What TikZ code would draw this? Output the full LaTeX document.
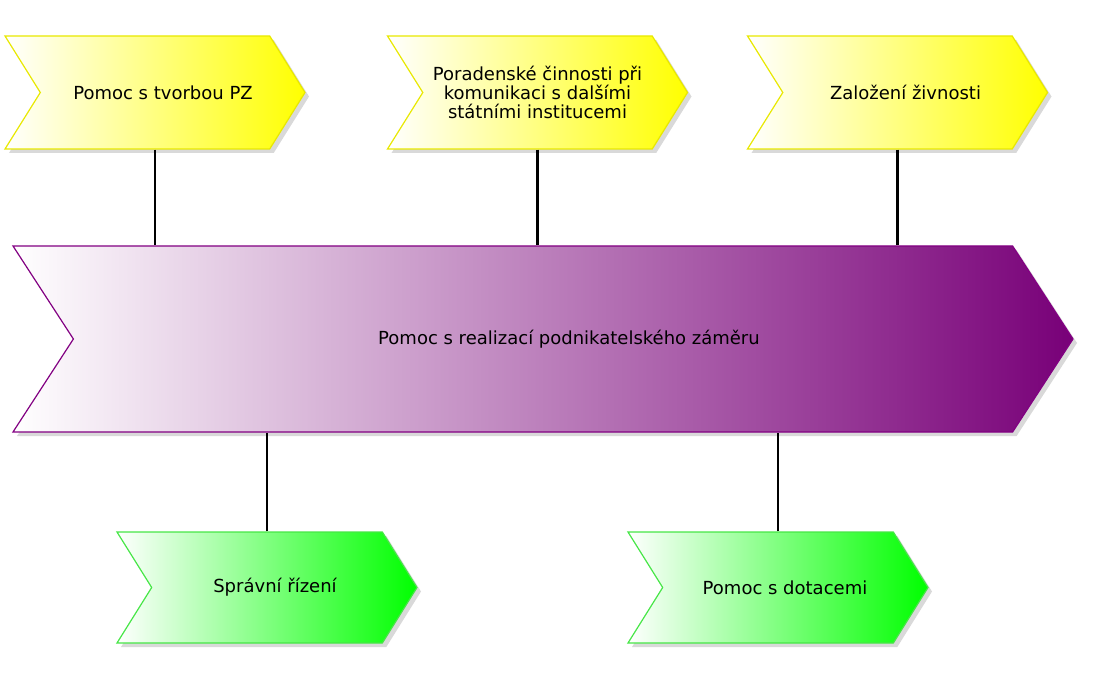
\documentclass[tikz,border=0pt]{standalone}
\usepackage{fontspec}
\setmainfont{DejaVu Sans}
\usetikzlibrary{shapes.symbols,shadows}
\definecolor{yellowfill}{RGB}{255,255,0}
\definecolor{yellowline}{RGB}{232,232,0}
\definecolor{greenfill}{RGB}{0,255,0}
\definecolor{greenline}{RGB}{70,230,70}
\definecolor{purplefill}{RGB}{120,0,120}
\definecolor{purpleline}{RGB}{130,0,130}
\tikzset{
  chev/.style={signal, signal from=west, signal to=east, signal pointer angle=116,
    inner sep=0pt, minimum width=150pt, line width=0.6pt, align=center,
    font=\fontsize{9}{9.3}\selectfont,
    drop shadow={shadow xshift=2pt, shadow yshift=-2pt, opacity=0.3}},
  ychev/.style={chev, minimum height=56.5pt, draw=yellowline, left color=white, right color=yellowfill},
  gchev/.style={chev, minimum height=55.5pt, draw=greenline, left color=white, right color=greenfill},
  mainchev/.style={chev, minimum width=530pt, minimum height=93pt, signal pointer angle=114,
    draw=purpleline, left color=white, right color=purplefill},
  link/.style={line width=1.2pt}
}
\begin{document}
\begin{tikzpicture}[x=0.5pt,y=-0.5pt]
\useasboundingbox (0,0) rectangle (1097,678);

\node[ychev] (zpz) at (155,92.5) {\hspace*{8pt}Pomoc s tvorbou PZ};
\node[ychev] (porad) at (537.5,92.5) {Poradenské činnosti při\\komunikaci s dalšími\\státními institucemi};
\node[ychev] (zivnost) at (897.5,92.5) {\hspace*{8pt}Založení živnosti};

\node[mainchev] (zamer) at (543,339) {\hspace*{26pt}Pomoc s realizací podnikatelského záměru};

\node[gchev] (rizeni) at (267,587.5) {\hspace*{8pt}Správní řízení};
\node[gchev] (dotace) at (778,587.5) {\hspace*{7pt}Pomoc s dotacemi};

\draw[link] (zpz.south) -- (zpz.south |- zamer.north);
\draw[link] (porad.south) -- (porad.south |- zamer.north);
\draw[link] (zivnost.south) -- (zivnost.south |- zamer.north);
\draw[link] (rizeni.north) -- (rizeni.north |- zamer.south);
\draw[link] (dotace.north) -- (dotace.north |- zamer.south);
\end{tikzpicture}
\end{document}
